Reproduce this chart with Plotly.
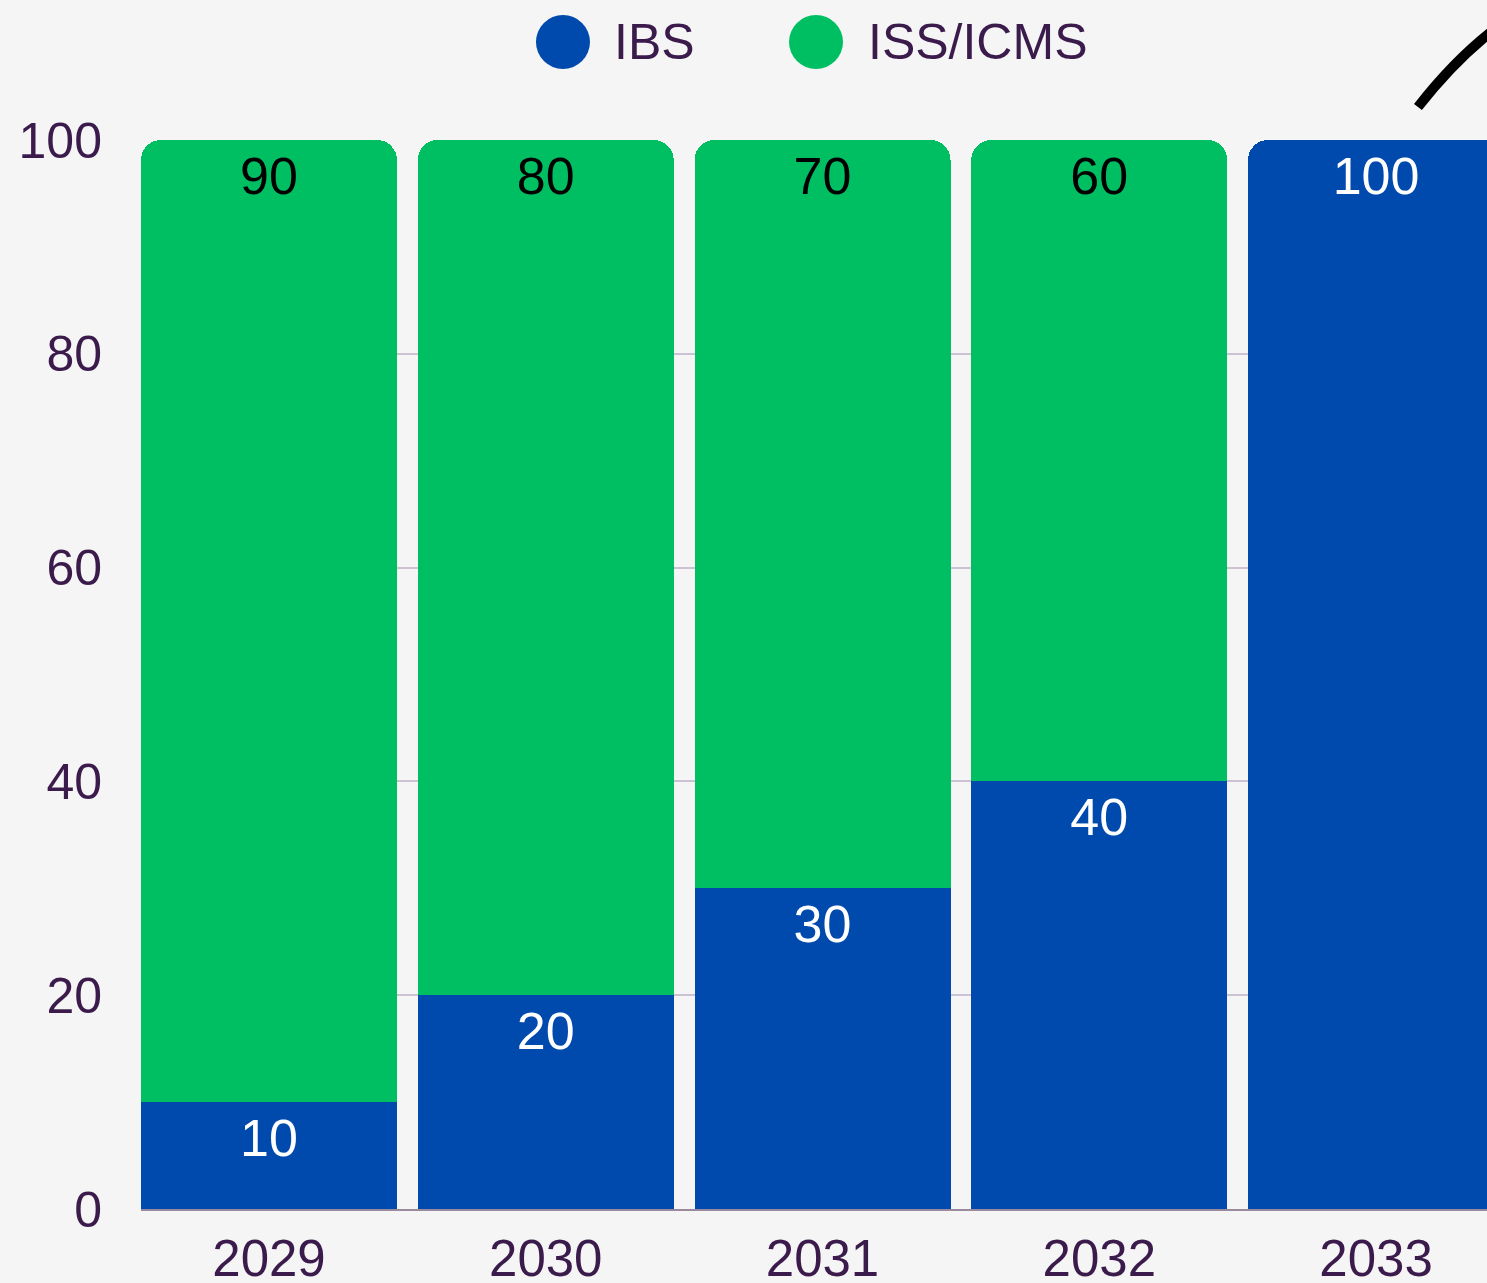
import plotly.graph_objects as go

years = ["2029", "2030", "2031", "2032", "2033"]
ibs = [10, 20, 30, 40, 100]
iss_icms = [90, 80, 70, 60, 0]
series_names = ["IBS", "ISS/ICMS"]
y_ticks = [0, 20, 40, 60, 80, 100]

BLUE = "#004AAD"
GREEN = "#00BF63"
PURPLE = "#3B1B4B"
BG = "#F5F5F5"
FONT = "Liberation Sans"

fig = go.Figure()
fig.add_trace(go.Bar(x=years, y=ibs, name=series_names[0], marker=dict(color=BLUE, line=dict(width=0)),
                     showlegend=False, hoverinfo="x+y+name"))
fig.add_trace(go.Bar(x=years, y=iss_icms, name=series_names[1], marker=dict(color=GREEN, line=dict(width=0)),
                     showlegend=False, hoverinfo="x+y+name"))

# value labels, placed just under the top of each segment
ibs_top = ibs
green_top = [a + b for a, b in zip(ibs, iss_icms)]
fig.add_trace(go.Scatter(x=years, y=ibs_top, mode="markers+text",
                         text=[str(v) if v else "" for v in ibs], textposition="bottom center",
                         marker=dict(size=22, opacity=0),
                         textfont=dict(family=FONT, size=52, color="white"),
                         showlegend=False, hoverinfo="skip"))
fig.add_trace(go.Scatter(x=years, y=green_top, mode="markers+text",
                         text=[str(v) if v else "" for v in iss_icms], textposition="bottom center",
                         marker=dict(size=22, opacity=0),
                         textfont=dict(family=FONT, size=52, color="black"),
                         showlegend=False, hoverinfo="skip"))

annotations = []
# manual legend
legend_items = [(series_names[0], BLUE, 0.3135, 0.350), (series_names[1], GREEN, 0.5015, 0.5386)]
shapes = []
for name, col, cx, tx in legend_items:
    shapes.append(dict(type="circle", xref="paper", yref="paper", xsizemode="pixel", ysizemode="pixel",
                       xanchor=cx, yanchor=1.0917, x0=-27, x1=27, y0=-27, y1=27,
                       fillcolor=col, line=dict(width=0)))
    annotations.append(dict(x=tx, y=1.0917, xref="paper", yref="paper", text=name, showarrow=False,
                            xanchor="left", yanchor="middle",
                            font=dict(family=FONT, size=50, color=PURPLE)))

# decorative arc top-right
shapes.append(dict(type="path", xref="paper", yref="paper",
                   path="M 0.9487,1.0309 Q 0.9777,1.0777 1.0097,1.1076",
                   line=dict(color="black", width=10)))

fig.update_layout(
    barmode="stack",
    bargap=0.075,
    barcornerradius=20,
    width=1487, height=1283,
    margin=dict(l=141, r=0, t=140, b=74, pad=0),
    paper_bgcolor=BG, plot_bgcolor=BG,
    annotations=annotations,
    shapes=shapes,
    showlegend=False,
    xaxis=dict(type="category", range=[-0.4625, 4.401], showgrid=False, zeroline=False,
               showline=True, linecolor="#9A8AA0", linewidth=2, automargin=False,
               ticks="", ticklabelstandoff=4,
               tickfont=dict(family=FONT, size=51, color=PURPLE)),
    yaxis=dict(range=[0, 100], tickvals=y_ticks, showgrid=True, gridcolor="#CDC2D4", gridwidth=1.5,
               zeroline=False, showline=False, ticks="", ticklabelstandoff=38, automargin=False,
               tickfont=dict(family=FONT, size=50, color=PURPLE)),
)

fig.write_html("out.html", config={"displayModeBar": False},
               post_script="document.body.style.margin='0';document.body.style.overflow='hidden';")
